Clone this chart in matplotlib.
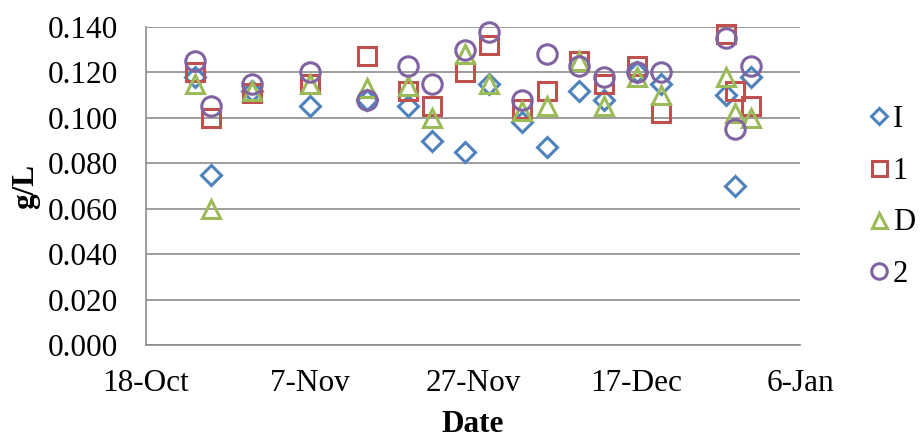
import pandas as pd
import matplotlib
matplotlib.use("Agg")
import matplotlib.pyplot as plt
import matplotlib.dates as mdates

plt.rcParams['font.family'] = ['Liberation Serif', 'DejaVu Serif']

# sampling dates and concentrations (g/L)
dates = pd.to_datetime([
    '2012-10-24', '2012-10-26', '2012-10-31', '2012-11-07', '2012-11-14',
    '2012-11-19', '2012-11-22', '2012-11-26', '2012-11-29', '2012-12-03',
    '2012-12-06', '2012-12-10', '2012-12-13', '2012-12-17', '2012-12-20',
    '2012-12-28', '2012-12-29', '2012-12-31'])

s_I = [0.118, 0.075, 0.112, 0.105, 0.108, 0.105, 0.090, 0.085, 0.115, 0.098,
       0.087, 0.112, 0.108, 0.120, 0.115, 0.110, 0.070, 0.118]
s_1 = [0.120, 0.100, 0.111, 0.115, 0.127, 0.112, 0.105, 0.120, 0.132, 0.104,
       0.112, 0.125, 0.115, 0.123, 0.102, 0.137, 0.112, 0.105]
s_D = [0.115, 0.060, 0.112, 0.115, 0.113, 0.114, 0.100, 0.128, 0.115, 0.103,
       0.105, 0.125, 0.105, 0.118, 0.110, 0.118, 0.102, 0.100]
s_2 = [0.125, 0.105, 0.115, 0.120, 0.108, 0.123, 0.115, 0.130, 0.138, 0.108,
       0.128, 0.123, 0.118, 0.120, 0.120, 0.135, 0.095, 0.123]

series = [
    ('I', s_I, 'D', '#4F81BD', 10),
    ('1', s_1, 's', '#C0504D', 13.5),
    ('D', s_D, '^', '#9BBB59', 13.5),
    ('2', s_2, 'o', '#8064A2', 14),
]

fig = plt.figure(figsize=(9.22, 4.42), dpi=100)
ax = fig.add_axes([0.1584, 0.2195, 0.7093, 0.7195])

for name, vals, mk, col, ms in series:
    ax.plot(dates, vals, linestyle='none', marker=mk, markersize=ms,
            markerfacecolor='none', markeredgecolor=col, markeredgewidth=2.2,
            label=name, clip_on=False)

ax.set_ylim(0, 0.14)
ax.set_yticks([i * 0.02 for i in range(8)])
ax.yaxis.set_major_formatter(plt.FormatStrFormatter('%.3f'))
ax.set_xlim(pd.Timestamp('2012-10-18'), pd.Timestamp('2013-01-06'))
ax.set_xticks(pd.date_range('2012-10-18', '2013-01-06', freq='20D'))
ax.xaxis.set_major_formatter(mdates.DateFormatter('%-d-%b'))

ax.grid(axis='y', color='#8c8c8c', linewidth=1.2)
ax.set_axisbelow(True)
for side in ['top', 'right']:
    ax.spines[side].set_visible(False)
for side in ['left', 'bottom']:
    ax.spines[side].set_color('#8c8c8c')
    ax.spines[side].set_linewidth(1.2)
ax.tick_params(length=0, labelsize=22.5)
ax.tick_params(axis='y', pad=20)
ax.tick_params(axis='x', pad=17)

ax.set_xlabel('Date', fontsize=22.5, fontweight='bold', labelpad=9)
ax.set_ylabel('g/L', fontsize=22.5, fontweight='bold', labelpad=6)

leg = ax.legend(loc='center left', bbox_to_anchor=(1.087, 0.465), frameon=False,
                fontsize=22, handletextpad=0.12, labelspacing=0.74,
                handlelength=0.65, markerscale=0.8, borderaxespad=0)

fig.savefig('out.png', dpi=100)
